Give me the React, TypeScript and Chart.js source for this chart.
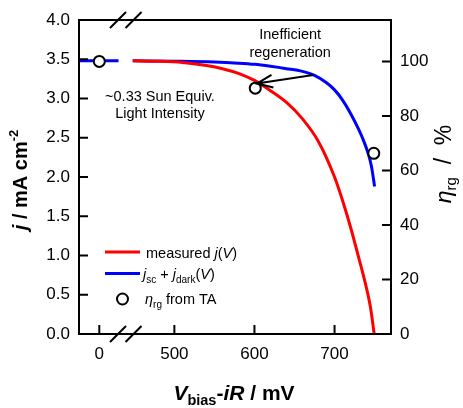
import React, { useEffect, useRef } from "react";
import { Chart, registerables } from "chart.js";

Chart.register(...registerables);

const FAMILY = "'Liberation Sans', Arial, Helvetica, sans-serif";

// Broken x axis: the "0 mV" region is drawn at axis position ZERO_POS
const ZERO_POS = 406.25;
const BREAK_V = 300;
const X_MIN = 380.9;
const X_MAX = 770.5;
const BREAK_MARKS = [429.6, 449];

const xTickValues = [0, 500, 600, 700];
const yTickValues = [0, 0.5, 1.0, 1.5, 2.0, 2.5, 3.0, 3.5, 4.0];
const etaTickValues = [0, 20, 40, 60, 80, 100];

// j_sc + j_dark(V): short segment near 0 mV, then the main curve
const blueLowV = [-26, 24];
const blueLowJ = [3.48, 3.48];
const blueV = [448, 500, 550, 580, 600, 620, 640, 660, 675, 690, 700, 710, 720, 730, 736, 742, 746, 750];
const blueJ = [3.48, 3.475, 3.465, 3.45, 3.435, 3.41, 3.38, 3.345, 3.295, 3.2, 3.11, 2.98, 2.81, 2.61, 2.47, 2.3, 2.14, 1.88];

// measured j(V)
const redV = [448, 480, 510, 540, 560, 580, 600, 620, 640, 660, 680, 700, 710, 720, 730, 740, 745, 749.5];
const redJ = [3.48, 3.475, 3.46, 3.42, 3.38, 3.32, 3.23, 3.1, 2.95, 2.74, 2.45, 2.0, 1.7, 1.36, 0.98, 0.58, 0.33, 0.0];

// eta_rg from TA (%)
const etaV = [0, 601, 749];
const etaVal = [100, 90.2, 66.3];

const ETA_MAX = 115.2;

// annotation anchors (data coordinates)
const ARROW_FROM = { v: 673.4, j: 3.3 };
const ARROW_TO = { v: 603, j: 3.19 };
const NOTE1 = { v: 644.6, j1: 3.758, j2: 3.529 };
const NOTE2 = { v: 482, j1: 2.962, j2: 2.752 };

const xPos = (v: number) => (v < BREAK_V ? v + ZERO_POS : v);
const xLabel = (p: number) => (p < BREAK_V + ZERO_POS - 250 ? p - ZERO_POS : p);

type Part = { t: string; size: number; style?: string; weight?: string; dy?: number };
const fontOf = (p: Part) => `${p.style || "normal"} ${p.weight || "normal"} ${p.size}px ${FAMILY}`;
function richWidth(ctx: CanvasRenderingContext2D, parts: Part[]) {
  let w = 0;
  for (const p of parts) {
    ctx.font = fontOf(p);
    w += ctx.measureText(p.t).width;
  }
  return w;
}
function drawRich(ctx: CanvasRenderingContext2D, parts: Part[], x: number, y: number, align: "left" | "center" = "left") {
  const w = richWidth(ctx, parts);
  let cx = align === "center" ? x - w / 2 : x;
  ctx.textAlign = "left";
  ctx.textBaseline = "alphabetic";
  for (const p of parts) {
    ctx.font = fontOf(p);
    ctx.fillText(p.t, cx, y + (p.dy || 0));
    cx += ctx.measureText(p.t).width;
  }
}

const overlay = {
  id: "overlay",
  afterDraw(chart: any) {
    const { ctx, chartArea: ca, scales } = chart;
    const sx = scales.x, sy = scales.y, sy2 = scales.y2;
    ctx.save();
    ctx.strokeStyle = "#000";
    ctx.fillStyle = "#000";
    ctx.lineWidth = 2;
    // frame
    ctx.strokeRect(ca.left, ca.top, ca.right - ca.left, ca.bottom - ca.top);
    // inward ticks
    const TL = 9;
    ctx.beginPath();
    for (const v of yTickValues) {
      const py = sy.getPixelForValue(v);
      ctx.moveTo(ca.left, py);
      ctx.lineTo(ca.left + TL, py);
    }
    for (const v of etaTickValues) {
      const py = sy2.getPixelForValue(v);
      ctx.moveTo(ca.right, py);
      ctx.lineTo(ca.right - TL, py);
    }
    for (const v of xTickValues) {
      const px = sx.getPixelForValue(xPos(v));
      ctx.moveTo(px, ca.bottom);
      ctx.lineTo(px, ca.bottom - TL);
    }
    ctx.stroke();
    // axis break marks
    ctx.beginPath();
    for (const b of BREAK_MARKS) {
      const px = sx.getPixelForValue(b);
      for (const py of [ca.top, ca.bottom]) {
        ctx.moveTo(px - 8, py + 8);
        ctx.lineTo(px + 8, py - 8);
      }
    }
    ctx.stroke();

    // arrow
    const ax0 = sx.getPixelForValue(ARROW_FROM.v), ay0 = sy.getPixelForValue(ARROW_FROM.j);
    const ax1 = sx.getPixelForValue(ARROW_TO.v), ay1 = sy.getPixelForValue(ARROW_TO.j);
    const ang = Math.atan2(ay0 - ay1, ax0 - ax1);
    ctx.beginPath();
    ctx.moveTo(ax0, ay0);
    ctx.lineTo(ax1, ay1);
    const HL = 17, HA = (22 * Math.PI) / 180;
    ctx.moveTo(ax1 + HL * Math.cos(ang - HA), ay1 + HL * Math.sin(ang - HA));
    ctx.lineTo(ax1, ay1);
    ctx.lineTo(ax1 + HL * Math.cos(ang + HA), ay1 + HL * Math.sin(ang + HA));
    ctx.stroke();

    // annotations
    const NS = 14.5;
    ctx.textAlign = "center";
    ctx.textBaseline = "alphabetic";
    ctx.font = `${NS}px ${FAMILY}`;
    ctx.fillText("Inefficient", sx.getPixelForValue(NOTE1.v), sy.getPixelForValue(NOTE1.j1));
    ctx.fillText("regeneration", sx.getPixelForValue(NOTE1.v), sy.getPixelForValue(NOTE1.j2));
    ctx.fillText("~0.33 Sun Equiv.", sx.getPixelForValue(NOTE2.v), sy.getPixelForValue(NOTE2.j1));
    ctx.fillText("Light Intensity", sx.getPixelForValue(NOTE2.v), sy.getPixelForValue(NOTE2.j2));

    // legend
    const ds = chart.data.datasets;
    const lx0 = ca.left + 26, lx1 = ca.left + 61, tx = ca.left + 67;
    const rows = [ca.top + 232, ca.top + 253.5, ca.top + 279];
    ctx.lineWidth = 3;
    ctx.strokeStyle = ds[1].borderColor;
    ctx.beginPath(); ctx.moveTo(lx0, rows[0]); ctx.lineTo(lx1, rows[0]); ctx.stroke();
    ctx.strokeStyle = ds[0].borderColor;
    ctx.beginPath(); ctx.moveTo(lx0, rows[1]); ctx.lineTo(lx1, rows[1]); ctx.stroke();
    ctx.lineWidth = 2;
    ctx.strokeStyle = "#000";
    ctx.fillStyle = "#fff";
    ctx.beginPath(); ctx.arc((lx0 + lx1) / 2, rows[2], 5.5, 0, Math.PI * 2); ctx.fill(); ctx.stroke();
    ctx.fillStyle = "#000";
    const LS = 14.5, SS = 10;
    drawRich(ctx, [
      { t: "measured ", size: LS },
      { t: "j", size: LS, style: "italic" },
      { t: "(", size: LS },
      { t: "V", size: LS, style: "italic" },
      { t: ")", size: LS },
    ], tx, rows[0] + 5.5);
    drawRich(ctx, [
      { t: "j", size: LS, style: "italic" },
      { t: "sc", size: SS, dy: 3.5 },
      { t: " + ", size: LS },
      { t: "j", size: LS, style: "italic" },
      { t: "dark", size: SS, dy: 3.5 },
      { t: "(", size: LS },
      { t: "V", size: LS, style: "italic" },
      { t: ")", size: LS },
    ], tx - 3, rows[1] + 5.5);
    drawRich(ctx, [
      { t: "η", size: LS, style: "italic" },
      { t: "rg", size: SS, dy: 3.5 },
      { t: " from TA", size: LS },
    ], tx - 1, rows[2] + 5);

    // axis titles
    drawRich(ctx, [
      { t: "V", size: 21, weight: "bold", style: "italic" },
      { t: "bias", size: 14.5, weight: "bold", dy: 5 },
      { t: "-", size: 21, weight: "bold" },
      { t: "iR", size: 21, weight: "bold", style: "italic" },
      { t: " / mV", size: 21, weight: "bold" },
    ], 234, 400, "center");

    ctx.save();
    ctx.translate(27, 180);
    ctx.rotate(-Math.PI / 2);
    drawRich(ctx, [
      { t: "j", size: 20, weight: "bold", style: "italic" },
      { t: " / mA cm", size: 20, weight: "bold" },
      { t: "-2", size: 13, weight: "bold", dy: -9 },
    ], 0, 0, "center");
    ctx.restore();

    ctx.save();
    ctx.translate(451, 164);
    ctx.rotate(-Math.PI / 2);
    drawRich(ctx, [
      { t: "η", size: 23, style: "italic" },
      { t: "rg", size: 15, dy: 5 },
      { t: "  /  %", size: 23 },
    ], 0, 0, "center");
    ctx.restore();

    ctx.restore();
  },
};

export default function App() {
  const ref = useRef<HTMLCanvasElement>(null);
  useEffect(() => {
    document.body.style.margin = "0";
    Chart.defaults.font.family = FAMILY;
    const blueData = [
      ...blueLowV.map((v, i) => ({ x: xPos(v), y: blueLowJ[i] })),
      { x: 440, y: null as any },
      ...blueV.map((v, i) => ({ x: xPos(v), y: blueJ[i] })),
    ];
    const redData = redV.map((v, i) => ({ x: xPos(v), y: redJ[i] }));
    const etaData = etaV.map((v, i) => ({ x: xPos(v), y: etaVal[i] }));
    const tickFont = { size: 17, family: FAMILY };
    const chart = new Chart(ref.current!, {
      type: "line",
      data: {
        datasets: [
          {
            label: "jsc + jdark(V)",
            data: blueData,
            borderColor: "#0000ff",
            borderWidth: 3,
            pointRadius: 0,
            cubicInterpolationMode: "monotone",
            spanGaps: false,
            yAxisID: "y",
            order: 2,
          },
          {
            label: "measured j(V)",
            data: redData,
            borderColor: "#ff0000",
            borderWidth: 3,
            pointRadius: 0,
            cubicInterpolationMode: "monotone",
            yAxisID: "y",
            order: 1,
          },
          {
            label: "ηrg from TA",
            data: etaData,
            showLine: false,
            pointRadius: 5.5,
            pointBorderWidth: 2,
            pointBorderColor: "#000",
            pointBackgroundColor: "#fff",
            borderColor: "#000",
            yAxisID: "y2",
            order: 0,
          },
        ],
      },
      options: {
        responsive: false,
        animation: false,
        layout: { padding: { top: 20, left: 0, right: 0, bottom: 0 } },
        plugins: { legend: { display: false }, tooltip: { enabled: false } },
        scales: {
          x: {
            type: "linear",
            min: X_MIN,
            max: X_MAX,
            grid: { display: false, drawTicks: false },
            border: { display: false },
            afterBuildTicks: (s: any) => {
              s.ticks = xTickValues.map((v) => ({ value: xPos(v) }));
            },
            afterFit: (s: any) => {
              s.height = 74;
            },
            ticks: {
              color: "#000",
              font: tickFont,
              padding: 10,
              maxRotation: 0,
              autoSkip: false,
              callback: (v: any) => String(Math.round(xLabel(Number(v)))),
            },
          },
          y: {
            position: "left",
            min: 0,
            max: 4,
            grid: { display: false, drawTicks: false },
            border: { display: false },
            afterBuildTicks: (s: any) => {
              s.ticks = yTickValues.map((v) => ({ value: v }));
            },
            afterFit: (s: any) => {
              s.width = 79;
            },
            ticks: { color: "#000", font: tickFont, padding: 9, callback: (v: any) => Number(v).toFixed(1) },
          },
          y2: {
            position: "right",
            min: 0,
            max: ETA_MAX,
            grid: { display: false, drawTicks: false },
            border: { display: false },
            afterBuildTicks: (s: any) => {
              s.ticks = etaTickValues.map((v) => ({ value: v }));
            },
            afterFit: (s: any) => {
              s.width = 72;
            },
            ticks: { color: "#000", font: tickFont, padding: 9, callback: (v: any) => String(v) },
          },
        },
      },
      plugins: [overlay],
    });
    return () => chart.destroy();
  }, []);
  return (
    <div style={{ width: 463, height: 408 }}>
      <canvas ref={ref} width={463} height={408} style={{ display: "block" }} />
    </div>
  );
}
